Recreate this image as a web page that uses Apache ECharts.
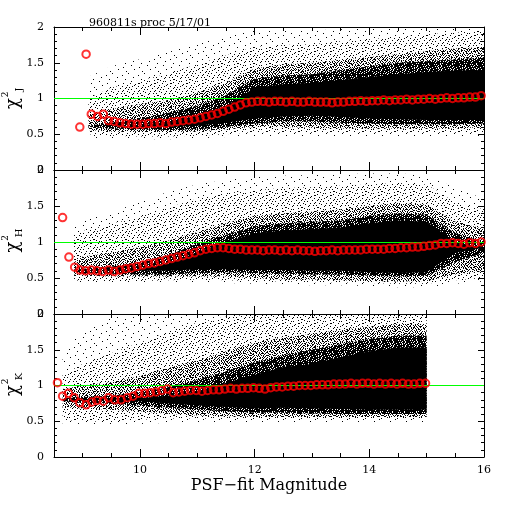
<!DOCTYPE html>
<html>
<head>
<meta charset="utf-8">
<script src="https://cdn.jsdelivr.net/npm/echarts@6/dist/echarts.min.js"></script>
<style>
  html, body { margin: 0; background: #fff; }
  #chart { width: 512px; height: 512px; }
</style>
</head>
<body>
<div id="chart"></div>
<script>
// chi^2 vs PSF-fit magnitude, three bands (J, H, K)
const X_MIN = 8.5, X_MAX = 16;
const xMajorTicks = [10, 12, 14, 16];
const titleText = '960811s proc 5/17/01';
const bandNames = ['J', 'H', 'K'];

// --- point cloud envelopes: faint / sparse / medium / heavy / solid core
const jMags      = [9.1, 9.5, 10, 10.5, 11, 11.5, 12, 12.5, 13, 13.5, 14, 14.5, 15, 15.5, 16];
const jFaintHi   = [1.30, 1.45, 1.55, 1.65, 1.78, 1.88, 1.95, 1.95, 1.95, 1.97, 2.00, 2.00, 2.00, 2.00, 2.00];
const jFaintLo   = [0.45, 0.44, 0.43, 0.43, 0.44, 0.46, 0.47, 0.46, 0.46, 0.46, 0.46, 0.46, 0.46, 0.46, 0.46];
const jSparseHi  = [1.00, 1.15, 1.25, 1.35, 1.48, 1.60, 1.72, 1.75, 1.76, 1.80, 1.83, 1.86, 1.90, 1.92, 1.95];
const jSparseLo  = [0.50, 0.48, 0.47, 0.47, 0.48, 0.50, 0.53, 0.52, 0.52, 0.52, 0.52, 0.52, 0.52, 0.52, 0.52];
const jMidHi     = [0.78, 0.85, 0.92, 0.98, 1.08, 1.22, 1.42, 1.48, 1.50, 1.54, 1.58, 1.62, 1.66, 1.70, 1.72];
const jMidLo     = [0.56, 0.54, 0.53, 0.53, 0.54, 0.57, 0.60, 0.60, 0.59, 0.58, 0.58, 0.58, 0.58, 0.58, 0.60];
const jHeavyHi   = [0.62, 0.66, 0.72, 0.80, 0.90, 1.05, 1.28, 1.32, 1.34, 1.40, 1.45, 1.50, 1.52, 1.55, 1.57];
const jHeavyLo   = [0.60, 0.58, 0.57, 0.56, 0.57, 0.60, 0.65, 0.68, 0.68, 0.66, 0.65, 0.64, 0.64, 0.64, 0.65];
const jCoreHi    = [0.60, 0.60, 0.62, 0.68, 0.76, 0.90, 1.15, 1.20, 1.22, 1.26, 1.30, 1.34, 1.37, 1.39, 1.40];
const jCoreLo    = [0.60, 0.60, 0.60, 0.60, 0.62, 0.66, 0.72, 0.75, 0.76, 0.74, 0.72, 0.71, 0.70, 0.70, 0.70];

const hMags      = [8.85, 9, 9.5, 10, 10.5, 11, 11.5, 12, 12.5, 13, 13.5, 14, 14.5, 15, 15.5, 16];
const hFaintHi   = [1.20, 1.30, 1.42, 1.55, 1.70, 1.80, 1.86, 1.90, 1.92, 1.93, 1.94, 1.95, 1.95, 1.93, 1.75, 1.60];
const hFaintLo   = [0.44, 0.43, 0.43, 0.43, 0.44, 0.44, 0.43, 0.42, 0.41, 0.40, 0.40, 0.39, 0.37, 0.37, 0.42, 0.45];
const hSparseHi  = [1.05, 1.15, 1.25, 1.35, 1.48, 1.60, 1.68, 1.72, 1.75, 1.76, 1.78, 1.80, 1.82, 1.80, 1.55, 1.45];
const hSparseLo  = [0.47, 0.46, 0.46, 0.46, 0.47, 0.48, 0.47, 0.46, 0.45, 0.44, 0.44, 0.43, 0.42, 0.42, 0.47, 0.50];
const hMidHi     = [0.72, 0.80, 0.85, 0.93, 1.02, 1.14, 1.26, 1.36, 1.40, 1.42, 1.45, 1.50, 1.54, 1.52, 1.28, 1.18];
const hMidLo     = [0.55, 0.53, 0.52, 0.52, 0.52, 0.52, 0.52, 0.50, 0.48, 0.48, 0.47, 0.46, 0.45, 0.46, 0.55, 0.60];
const hHeavyHi   = [0.62, 0.63, 0.66, 0.72, 0.82, 0.98, 1.10, 1.22, 1.26, 1.28, 1.30, 1.36, 1.40, 1.38, 1.12, 1.00];
const hHeavyLo   = [0.60, 0.57, 0.56, 0.55, 0.55, 0.57, 0.58, 0.57, 0.56, 0.55, 0.55, 0.53, 0.52, 0.53, 0.72, 0.85];
const hCoreHi    = [0.60, 0.60, 0.60, 0.62, 0.70, 0.86, 1.00, 1.12, 1.16, 1.18, 1.20, 1.26, 1.30, 1.28, 1.00, 0.92];
const hCoreLo    = [0.60, 0.60, 0.60, 0.60, 0.60, 0.62, 0.62, 0.61, 0.61, 0.60, 0.60, 0.58, 0.57, 0.58, 0.85, 0.92];

const kMags      = [8.65, 9, 9.5, 10, 10.5, 11, 11.5, 12, 12.5, 13, 13.5, 14, 14.5, 15];
const kFaintHi   = [1.50, 1.75, 1.95, 2.00, 2.00, 2.00, 2.00, 2.00, 2.00, 2.00, 2.00, 2.00, 2.00, 2.00];
const kFaintLo   = [0.47, 0.46, 0.45, 0.46, 0.48, 0.48, 0.48, 0.48, 0.48, 0.48, 0.48, 0.48, 0.48, 0.48];
const kSparseHi  = [1.15, 1.30, 1.45, 1.60, 1.75, 1.88, 1.96, 2.00, 2.00, 2.00, 2.00, 2.00, 2.00, 2.00];
const kSparseLo  = [0.52, 0.50, 0.49, 0.52, 0.54, 0.54, 0.53, 0.53, 0.53, 0.53, 0.53, 0.53, 0.53, 0.53];
const kMidHi     = [0.95, 1.00, 1.05, 1.13, 1.25, 1.35, 1.48, 1.60, 1.67, 1.72, 1.78, 1.82, 1.86, 1.86];
const kMidLo     = [0.70, 0.68, 0.66, 0.64, 0.60, 0.58, 0.57, 0.56, 0.56, 0.56, 0.56, 0.56, 0.56, 0.56];
const kHeavyHi   = [0.82, 0.84, 0.86, 0.90, 0.98, 1.08, 1.20, 1.32, 1.42, 1.50, 1.58, 1.65, 1.70, 1.70];
const kHeavyLo   = [0.78, 0.76, 0.74, 0.72, 0.69, 0.66, 0.64, 0.62, 0.62, 0.61, 0.60, 0.60, 0.60, 0.60];
const kCoreHi    = [0.80, 0.80, 0.80, 0.82, 0.86, 0.92, 1.04, 1.15, 1.26, 1.30, 1.40, 1.48, 1.53, 1.53];
const kCoreLo    = [0.80, 0.80, 0.80, 0.78, 0.75, 0.72, 0.70, 0.68, 0.69, 0.68, 0.67, 0.66, 0.66, 0.66];

// --- running medians (red circles)
const jMedMag = [8.95, 9.06, 9.15, 9.26, 9.36, 9.45,
  9.55, 9.65, 9.75, 9.85, 9.95, 10.05, 10.15, 10.25, 10.35, 10.45, 10.55, 10.65, 10.75, 10.85, 10.95,
  11.05, 11.15, 11.25, 11.35, 11.45, 11.55, 11.65, 11.75, 11.85, 11.95, 12.05, 12.15, 12.25, 12.35, 12.45,
  12.55, 12.65, 12.75, 12.85, 12.95, 13.05, 13.15, 13.25, 13.35, 13.45, 13.55, 13.65, 13.75, 13.85, 13.95,
  14.05, 14.15, 14.25, 14.35, 14.45, 14.55, 14.65, 14.75, 14.85, 14.95, 15.05, 15.15, 15.25, 15.35, 15.45,
  15.55, 15.65, 15.75, 15.85, 15.95];
const jMed = [0.60, 1.62, 0.78, 0.75, 0.78, 0.69,
  0.68, 0.66, 0.65, 0.64, 0.64, 0.64, 0.65, 0.65, 0.66, 0.65, 0.67, 0.68, 0.69, 0.70, 0.71,
  0.73, 0.75, 0.77, 0.79, 0.82, 0.85, 0.88, 0.91, 0.94, 0.95, 0.96, 0.96, 0.95, 0.96, 0.96,
  0.95, 0.96, 0.95, 0.95, 0.96, 0.95, 0.95, 0.95, 0.94, 0.95, 0.95, 0.96, 0.96, 0.97, 0.96,
  0.97, 0.97, 0.98, 0.97, 0.98, 0.98, 0.99, 0.98, 0.99, 0.99, 1.00, 0.99, 1.00, 1.01, 1.00,
  1.01, 1.01, 1.02, 1.02, 1.04];

const hMedMag = [8.65, 8.76, 8.86, 8.95,
  9.05, 9.15, 9.25, 9.35, 9.45, 9.55, 9.65, 9.75, 9.85, 9.95, 10.05, 10.15, 10.25, 10.35, 10.45,
  10.55, 10.65, 10.75, 10.85, 10.95, 11.05, 11.15, 11.25, 11.35, 11.45, 11.55, 11.65, 11.75, 11.85, 11.95,
  12.05, 12.15, 12.25, 12.35, 12.45, 12.55, 12.65, 12.75, 12.85, 12.95, 13.05, 13.15, 13.25, 13.35, 13.45,
  13.55, 13.65, 13.75, 13.85, 13.95, 14.05, 14.15, 14.25, 14.35, 14.45, 14.55, 14.65, 14.75, 14.85, 14.95,
  15.05, 15.15, 15.25, 15.35, 15.45, 15.55, 15.65, 15.75, 15.85, 15.95];
const hMed = [1.34, 0.79, 0.65, 0.61,
  0.60, 0.61, 0.60, 0.59, 0.61, 0.59, 0.61, 0.63, 0.64, 0.66, 0.68, 0.70, 0.71, 0.73, 0.75,
  0.77, 0.79, 0.81, 0.83, 0.85, 0.88, 0.90, 0.91, 0.92, 0.92, 0.91, 0.90, 0.90, 0.89, 0.89,
  0.89, 0.88, 0.89, 0.89, 0.88, 0.89, 0.88, 0.89, 0.88, 0.88, 0.87, 0.88, 0.88, 0.89, 0.88,
  0.89, 0.89, 0.89, 0.89, 0.90, 0.90, 0.90, 0.90, 0.91, 0.91, 0.92, 0.92, 0.93, 0.93, 0.94,
  0.95, 0.96, 0.98, 0.98, 0.99, 0.98, 0.97, 0.99, 0.98, 1.00];

const kMedMag = [8.56, 8.65, 8.75, 8.85, 8.95, 9.06, 9.16, 9.25, 9.36, 9.45, 9.56, 9.67, 9.78, 9.88,
  9.98, 10.08, 10.18, 10.28, 10.38, 10.48, 10.58, 10.68, 10.78, 10.88, 10.98, 11.08, 11.18, 11.28, 11.38,
  11.48, 11.58, 11.68, 11.78, 11.88, 11.98, 12.08, 12.18, 12.28, 12.38, 12.48, 12.58, 12.68, 12.78, 12.88,
  12.98, 13.08, 13.18, 13.28, 13.38, 13.48, 13.58, 13.68, 13.78, 13.88, 13.98, 14.08, 14.18, 14.28, 14.38,
  14.48, 14.58, 14.68, 14.78, 14.88, 14.98];
const kMed = [1.04, 0.85, 0.89, 0.83, 0.76, 0.73, 0.77, 0.79, 0.78, 0.83, 0.80, 0.80, 0.83, 0.85,
  0.89, 0.89, 0.90, 0.91, 0.93, 0.95, 0.90, 0.91, 0.92, 0.93, 0.93, 0.92, 0.93, 0.94, 0.94,
  0.95, 0.96, 0.95, 0.96, 0.96, 0.97, 0.96, 0.95, 0.97, 0.98, 0.98, 0.99, 0.99, 1.00, 1.00,
  1.00, 1.01, 1.01, 1.01, 1.02, 1.02, 1.02, 1.03, 1.02, 1.03, 1.03, 1.02, 1.03, 1.02, 1.03,
  1.02, 1.03, 1.02, 1.02, 1.03, 1.03];

// --- speckle textures for the cloud density levels
const FAINT_TILE = [
  '................',
  '...x............',
  '................',
  '...........x....',
  '................',
  '......x.........',
  '................',
  '..............x.',
  '................',
  'x...............',
  '................',
  '..........x.....',
  '................',
  '.....x..........',
  '................',
  '.............x..'
];
const SPARSE_TILE = [
  'x.........x.....',
  '.....x..........',
  '.............x..',
  '..x.......x.....',
  '.......x........',
  '...............x',
  '....x.....x.....',
  '.x..............',
  '........x....x..',
  '...x............',
  '...........x....',
  '......x........x',
  '.x..............',
  '.........x..x...',
  '....x...........',
  '..............x.'
];
const MID_TILE = [
  'x..x...x.x..',
  '..x..x....x.',
  '.x....x.x..x',
  'x..x.x...x..',
  '...x...x..x.',
  '.x..x.....xx',
  'x.....x.x...',
  '..x.x....x.x',
  '.x...x.x....',
  'x..x....x.x.',
  '..x..x.x...x',
  '.x.x......x.'
];
const HEAVY_TILE = [
  'xx.xxx.xx.xx',
  'x.xx.xxx.xx.',
  'xxx.xx.x.xxx',
  '.xxxx.xx.x.x',
  'xx.x.xxx.xxx',
  'x.xxxx.xx.x.',
  'xxx.x.xxx.xx',
  '.x.xxx.x.xxx',
  'xxxx.x.xxx.x',
  'x.x.xxx.x.xx',
  'xx.xxx.xx.x.',
  '.xxx.xxx.xxx'
];

function makePattern(rows){
  const c = document.createElement('canvas');
  c.width = rows[0].length; c.height = rows.length;
  const ctx = c.getContext('2d');
  ctx.fillStyle = '#000';
  rows.forEach((r, y) => { for (let x = 0; x < r.length; x++) if (r[x] === 'x') ctx.fillRect(x, y, 1, 1); });
  return { image: c, repeat: 'repeat' };
}
const fills = [makePattern(FAINT_TILE), makePattern(SPARSE_TILE), makePattern(MID_TILE), makePattern(HEAVY_TILE), '#000'];

const chart = echarts.init(document.getElementById('chart'));

const GRID_TOPS = [27, 170, 314];
const GRID_H = [143, 144, 143];
const FONT = 'DejaVu Serif';

const panels = [
  { mags: jMags, bands: [[jFaintLo, jFaintHi], [jSparseLo, jSparseHi], [jMidLo, jMidHi], [jHeavyLo, jHeavyHi], [jCoreLo, jCoreHi]], medX: jMedMag, medY: jMed },
  { mags: hMags, bands: [[hFaintLo, hFaintHi], [hSparseLo, hSparseHi], [hMidLo, hMidHi], [hHeavyLo, hHeavyHi], [hCoreLo, hCoreHi]], medX: hMedMag, medY: hMed },
  { mags: kMags, bands: [[kFaintLo, kFaintHi], [kSparseLo, kSparseHi], [kMidLo, kMidHi], [kHeavyLo, kHeavyHi], [kCoreLo, kCoreHi]], medX: kMedMag, medY: kMed }
];

const grids = [], xAxes = [], yAxes = [], series = [];
const line = { show: true, lineStyle: { color: '#000', width: 1 } };

panels.forEach((p, g) => {
  grids.push({ left: 54, right: 28, top: GRID_TOPS[g], height: GRID_H[g] });
  const isLast = g === panels.length - 1;
  const base = { type: 'value', gridIndex: g, min: X_MIN, max: X_MAX, splitLine: { show: false } };
  // bottom major / bottom minor / top major / top minor
  xAxes.push(Object.assign({}, base, {
    position: 'bottom', axisLine: line,
    axisTick: { inside: true, length: 8, customValues: xMajorTicks, lineStyle: { color: '#000' } },
    axisLabel: isLast ? { customValues: xMajorTicks, color: '#000', fontFamily: FONT, fontSize: 11, margin: 8 } : { show: false }
  }));
  xAxes.push(Object.assign({}, base, {
    position: 'bottom', interval: 0.5, axisLine: { show: false },
    axisTick: { inside: true, length: 4, lineStyle: { color: '#000' } }, axisLabel: { show: false }
  }));
  xAxes.push(Object.assign({}, base, {
    position: 'top', axisLine: line,
    axisTick: { inside: true, length: 8, customValues: xMajorTicks, lineStyle: { color: '#000' } }, axisLabel: { show: false }
  }));
  xAxes.push(Object.assign({}, base, {
    position: 'top', interval: 0.5, axisLine: { show: false },
    axisTick: { inside: true, length: 4, lineStyle: { color: '#000' } }, axisLabel: { show: false }
  }));
  const ybase = {
    type: 'value', gridIndex: g, min: 0, max: 2, interval: 0.5, splitLine: { show: false }, axisLine: line,
    axisTick: { inside: true, length: 6, lineStyle: { color: '#000' } },
    minorTick: { show: true, splitNumber: 5, length: 3, lineStyle: { color: '#000' } }
  };
  yAxes.push(Object.assign({}, ybase, {
    position: 'left',
    axisLabel: { color: '#000', fontFamily: FONT, fontSize: 11, margin: 10, showMinLabel: true, showMaxLabel: true }
  }));
  yAxes.push(Object.assign({}, ybase, { position: 'right', axisLabel: { show: false } }));

  // cloud density bands, drawn from faint to solid
  p.bands.forEach(([lo, hi], b) => {
    series.push({
      type: 'custom', xAxisIndex: 4 * g, yAxisIndex: 2 * g, clip: true, silent: true, z: 1 + b,
      data: [[p.mags[0], lo[0]]],
      renderItem: (params, api) => {
        const pts = [];
        for (let i = 0; i < p.mags.length; i++) pts.push(api.coord([p.mags[i], hi[i]]));
        for (let i = p.mags.length - 1; i >= 0; i--) pts.push(api.coord([p.mags[i], lo[i]]));
        return { type: 'polygon', shape: { points: pts }, style: { fill: fills[b], stroke: null } };
      }
    });
  });

  // reference line at chi^2 = 1, snapped to a pixel row, on its own layer above the cloud
  series.push({
    type: 'custom', xAxisIndex: 4 * g, yAxisIndex: 2 * g, zlevel: 1, z: 1, silent: true, clip: false,
    data: [[X_MIN, 1]],
    renderItem: (params, api) => {
      const a = api.coord([X_MIN, 1]), b = api.coord([X_MAX, 1]);
      const y = Math.floor(a[1]) + 0.5;
      return { type: 'line', shape: { x1: a[0], y1: y, x2: b[0], y2: y }, style: { stroke: '#00ff00', lineWidth: 1 } };
    }
  });

  // medians
  series.push({
    type: 'scatter', xAxisIndex: 4 * g, yAxisIndex: 2 * g, zlevel: 1, z: 2, symbol: 'circle', symbolSize: 7.5,
    itemStyle: { color: 'rgba(0,0,0,0)', borderColor: '#ff0000', borderWidth: 2 },
    data: p.medX.map((x, i) => [x, p.medY[i]])
  });
});

// y-axis names: chi^2 with band subscript, rotated
const graphics = [];
GRID_TOPS.forEach((t, g) => {
  const c = t + GRID_H[g] / 2;
  graphics.push(
    { type: 'text', x: 13, y: c + 5, rotation: Math.PI / 2,
      style: { text: 'χ', fontFamily: FONT, fontSize: 18, fill: '#000', align: 'center', verticalAlign: 'middle' } },
    { type: 'text', x: 6, y: c - 4, rotation: Math.PI / 2,
      style: { text: '2', fontFamily: FONT, fontSize: 9, fill: '#000', align: 'center', verticalAlign: 'middle' } },
    { type: 'text', x: 19, y: c - 9, rotation: Math.PI / 2,
      style: { text: bandNames[g], fontFamily: FONT, fontSize: 10, fill: '#000', align: 'center', verticalAlign: 'middle' } }
  );
});
graphics.push(
  { type: 'text', x: 150, y: 23, style: { text: titleText, fontFamily: FONT, fontSize: 11, fill: '#000', align: 'center', verticalAlign: 'middle' } },
  { type: 'text', x: 269, y: 486, style: { text: 'PSF−fit Magnitude', fontFamily: FONT, fontSize: 16, fill: '#000', align: 'center', verticalAlign: 'middle' } }
);

chart.setOption({
  backgroundColor: '#fff',
  animation: false,
  grid: grids,
  xAxis: xAxes,
  yAxis: yAxes,
  graphic: graphics,
  series: series
});
</script>
</body>
</html>
